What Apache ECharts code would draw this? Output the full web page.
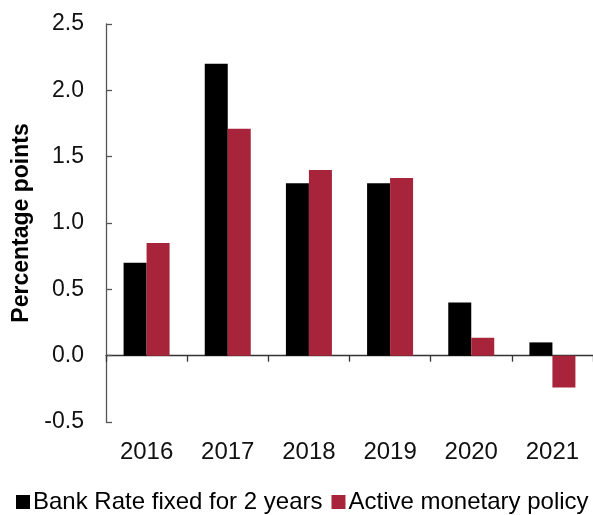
<!DOCTYPE html>
<html><head><meta charset="utf-8">
<script src="https://cdn.jsdelivr.net/npm/echarts@6/dist/echarts.min.js"></script>
<style>html,body{margin:0;padding:0;background:#fff}#c{width:593px;height:515px}</style>
</head><body><div id="c"></div>
<script>
var categories = ['2016','2017','2018','2019','2020','2021'];
var bankRateFixed = [0.7, 2.2, 1.3, 1.3, 0.4, 0.1];
var activePolicy = [0.85, 1.71, 1.4, 1.34, 0.135, -0.24];
var seriesNames = ['Bank Rate fixed for 2 years', 'Active monetary policy'];
var yTicks = ['-0.5','0.0','0.5','1.0','1.5','2.0','2.5'];

var chart = echarts.init(document.getElementById('c'));
var font = 'Liberation Sans, Arial, sans-serif';
chart.setOption({
  animation: false,
  grid: {left: 106, top: 24, width: 488, height: 398},
  legend: {
    top: 490, left: 16, padding: 0, itemGap: 9, itemWidth: 14, itemHeight: 14,
    icon: 'rect',
    textStyle: {fontFamily: font, fontSize: 24, color: '#000', padding: [0,0,0,-2]},
    data: seriesNames
  },
  xAxis: [{
    type: 'category', data: categories, position: 'bottom',
    axisLine: {show: false, onZero: false}, axisTick: {show: false},
    axisLabel: {fontFamily: font, fontSize: 24, color: '#111', margin: 18, interval: 0}
  }, {
    type: 'category', data: categories, position: 'bottom',
    axisLine: {show: true, onZero: true, lineStyle: {color: '#333', width: 1.3}},
    axisTick: {show: true, length: 6, lineStyle: {color: '#333', width: 1.3}},
    axisLabel: {show: false}
  }],
  yAxis: {
    type: 'value', min: -0.5, max: 2.5, interval: 0.5,
    axisLine: {show: true, lineStyle: {color: '#555', width: 1.3}},
    axisTick: {show: true, inside: true, length: 6, lineStyle: {color: '#555', width: 1.3}},
    splitLine: {show: false},
    axisLabel: {fontFamily: font, fontSize: 23, color: '#111', margin: 22,
      formatter: function(v){ return yTicks[Math.round((v+0.5)/0.5)]; }},
    name: 'Percentage points', nameLocation: 'middle', nameGap: 71,
    nameTextStyle: {fontFamily: font, fontSize: 23, fontWeight: 'bold', color: '#000'}
  },
  series: [{
    name: seriesNames[0], type: 'bar', data: bankRateFixed, xAxisIndex: 0,
    barWidth: 23, barGap: '0%', itemStyle: {color: '#000000'}
  }, {
    name: seriesNames[1], type: 'bar', data: activePolicy, xAxisIndex: 0,
    barWidth: 23, barGap: '0%', itemStyle: {color: '#A8243B'}
  }]
});
</script></body></html>
